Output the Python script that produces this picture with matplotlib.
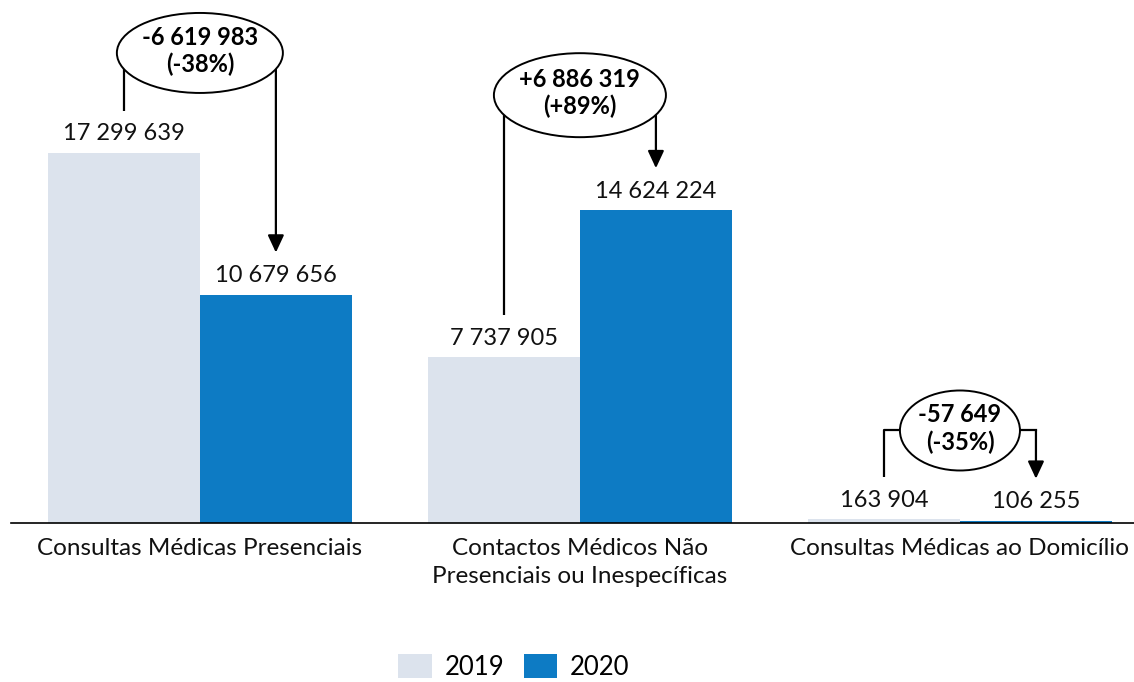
import matplotlib
matplotlib.use('Agg')
import matplotlib.pyplot as plt
import numpy as np
from matplotlib.patches import Ellipse, Patch

categories = ['Consultas Médicas Presenciais',
              'Contactos Médicos Não\nPresenciais ou Inespecíficas',
              'Consultas Médicas ao Domicílio']
years = ['2019', '2020']
values_2019 = [17299639, 7737905, 163904]
values_2020 = [10679656, 14624224, 106255]
diff_labels = ['-6 619 983\n(-38%)', '+6 886 319\n(+89%)', '-57 649\n(-35%)']

colors = ['#DCE3ED', '#0D7BC4']
plt.rcParams['font.family'] = ['Lato', 'DejaVu Sans']


def fmt(v):
    return f'{v:,}'.replace(',', ' ')


W, H = 1134, 682
fig = plt.figure(figsize=(W / 100, H / 100), dpi=100)
ax = fig.add_axes([11 / W, (H - 523) / H, (W - 11) / W, 523 / H])
ymax = 24.45e6
ax.set_xlim(-0.497, 2.458)
ax.set_ylim(0, ymax)
py = ymax / 523.0      # data units per pixel (y)
pxx = 1 / 380.0        # data units per pixel (x)

x = np.arange(len(categories))
bw = 0.4
ax.bar(x - bw / 2, values_2019, width=bw, color=colors[0], label=years[0], zorder=2)
ax.bar(x + bw / 2, values_2020, width=bw, color=colors[1], label=years[1], zorder=2)

for xs, vals in ((x - bw / 2, values_2019), (x + bw / 2, values_2020)):
    for xi, v in zip(xs, vals):
        ax.annotate(fmt(v), (xi, v), xytext=(0, 9), textcoords='offset points',
                    ha='center', va='baseline', fontsize=17, color='#111111')

for s in ['top', 'right', 'left']:
    ax.spines[s].set_visible(False)
ax.spines['bottom'].set_linewidth(1.2)
ax.spines['bottom'].set_color('black')
ax.set_yticks([])
ax.set_xticks(x)
ax.set_xticklabels(categories, fontsize=17.5, linespacing=1.4, color='#111111')
ax.tick_params(axis='x', length=0, pad=11)

# annotations
ell_w = [166, 172, 120]
ell_h = [80, 84, 80]
ell_above = [100, 115, 89]   # pixels above the tallest bar of the group
tip_gap = 42                 # pixels above bar top for line ends
for i in range(len(categories)):
    v1, v2 = values_2019[i], values_2020[i]
    yc = max(v1, v2) + ell_above[i] * py
    e = Ellipse((x[i], yc), width=ell_w[i] * pxx, height=ell_h[i] * py,
                facecolor='white', edgecolor='black', lw=1.4, zorder=5)
    ax.add_patch(e)
    ax.text(x[i], yc + 2 * py, diff_labels[i], ha='center', va='center',
            fontsize=17, fontweight='bold', linespacing=1.2, zorder=6)
    xl, xr = x[i] - bw / 2, x[i] + bw / 2
    ax.plot([x[i], xl, xl], [yc, yc, v1 + tip_gap * py], color='black', lw=1.6,
            zorder=4, solid_capstyle='butt')
    ax.annotate('', xy=(xr, v2 + tip_gap * py), xytext=(xr, yc),
                arrowprops=dict(arrowstyle='-|>,head_length=0.75,head_width=0.35',
                                mutation_scale=14, color='black', lw=1.6,
                                shrinkA=0, shrinkB=0), zorder=4)
    ax.plot([x[i], xr], [yc, yc], color='black', lw=1.6, zorder=4)

handles = [Patch(facecolor=colors[0]), Patch(facecolor=colors[1])]
fig.legend(handles, years, loc='center', bbox_to_anchor=(514 / W, 1 - 667 / H),
           frameon=False, ncol=2, fontsize=18.5, handlelength=1.3, handleheight=1.05,
           handletextpad=0.5, columnspacing=0.75)

fig.savefig('out.png', dpi=100)
